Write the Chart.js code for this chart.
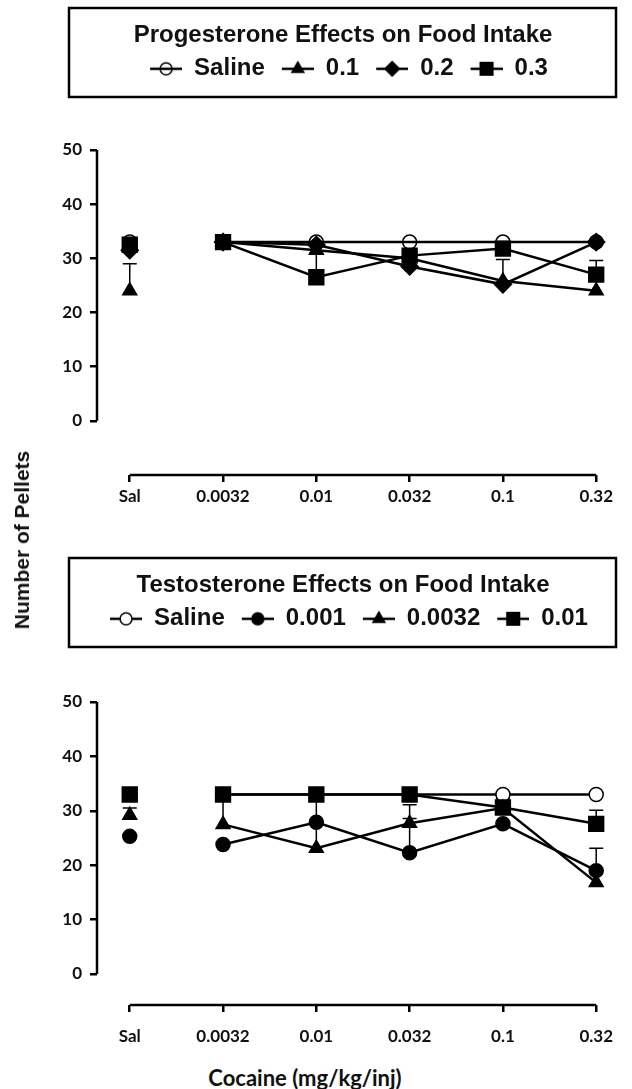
<!DOCTYPE html>
<html>
<head>
<meta charset="utf-8">
<script src="https://cdn.jsdelivr.net/npm/chart.js@4.4.0/dist/chart.umd.min.js"></script>
<style>
  html, body { margin: 0; padding: 0; background: #fff; }
  #wrap { position: relative; width: 632px; height: 1089px; overflow: hidden; }
  .panel { position: absolute; left: 0; width: 632px; }
  #topPanel { top: 0; }
  #bottomPanel { top: 540px; }
  #ytitle {
    position: absolute; left: 22px; top: 540px;
    transform: translate(-50%, -50%) rotate(-90deg);
    font: bold 21px "Liberation Sans", Arial, sans-serif; color: #111; white-space: nowrap;
  }
  #xtitle {
    position: absolute; left: 305px; top: 1077px;
    transform: translate(-50%, -50%);
    font: bold 22px Lato, sans-serif; color: #111; white-space: nowrap;
  }
</style>
</head>
<body>
<div id="wrap">
  <div class="panel" id="topPanel"><canvas id="chartProg" width="632" height="515"></canvas></div>
  <div class="panel" id="bottomPanel"><canvas id="chartTest" width="632" height="520"></canvas></div>
  <div id="ytitle">Number of Pellets</div>
  <div id="xtitle">Cocaine (mg/kg/inj)</div>
</div>
<script>
// ---- data ----
const doseLabels = ["Sal", "0.0032", "0.01", "0.032", "0.1", "0.32"];
const yTicks = [0, 10, 20, 30, 40, 50];

// progesterone panel
const progSaline = [33, 33, 33, 33, 33, 33];
const prog01 = [24, 33, 31.5, 30, 25.8, 24];
const prog02 = [31.5, 33, 32.5, 28.5, 25.2, 33];
const prog03 = [32.5, 33, 26.5, 30.5, 31.8, 27];
const prog01Err = [5, 0, 0, 0, 4, 0];
const prog03Err = [0, 0, 4.5, 0, 0, 2.6];

// testosterone panel
const testSaline = [33, 33, 33, 33, 33, 33];
const test0001 = [25.3, 23.8, 27.9, 22.3, 27.6, 19];
const test00032 = [29.2, 27.5, 23.1, 27.7, 30.5, 16.8];
const test001 = [33, 33, 33, 33, 30.6, 27.6];
const test0001Err = [0, 0, 0, 6.3, 0, 4.1];
const test00032Err = [1.3, 5, 9, 3.4, 0, 0];
const test001Err = [0, 0, 0, 0, 1.6, 2.5];

const tickFont = { family: "Lato, sans-serif", size: 17, weight: "bold" };
const legendFont = { family: "'Liberation Sans', Arial, sans-serif", size: 24, weight: "bold" };

// icon for the legend: short line with the marker on it
function legendIcon(style, fill, radius) {
    const c = document.createElement("canvas");
    c.width = 44; c.height = 22;
    const g = c.getContext("2d");
    g.strokeStyle = "#000";
    g.lineWidth = 2.5;
    g.beginPath(); g.moveTo(12, 11); g.lineTo(44, 11); g.stroke();
    g.fillStyle = fill;
    g.lineWidth = 1.5;
    Chart.helpers.drawPoint(g, { pointStyle: style, radius: radius, rotation: 0, borderWidth: 1.5 }, 28, 11);
    return c;
}

function lineSet(label, values, style, radius, fill, order, errors) {
    return {
        label: label,
        data: values.map((v, i) => ({ x: i, y: v })),
        errors: errors || null,
        borderColor: "#000",
        borderWidth: 2.5,
        pointStyle: style,
        pointRadius: radius,
        pointHoverRadius: radius,
        pointBackgroundColor: fill,
        pointBorderColor: "#000",
        pointBorderWidth: 1.5,
        order: order,
        fill: false,
        tension: 0,
        // the saline-pretreatment point stands apart, no line to it
        segment: { borderColor: c => c.p0DataIndex === 0 ? "rgba(0,0,0,0)" : "#000" }
    };
}

const errorBars = {
    id: "errorBars",
    beforeDatasetsDraw(chart) {
        const ctx = chart.ctx, xs = chart.scales.x, ys = chart.scales.y;
        chart.data.datasets.forEach(ds => {
            if (!ds.errors) return;
            ds.data.forEach((p, i) => {
                const e = ds.errors[i];
                if (!e) return;
                const x = xs.getPixelForValue(p.x);
                const y0 = ys.getPixelForValue(p.y);
                const y1 = ys.getPixelForValue(p.y + e);
                ctx.save();
                ctx.strokeStyle = "#000";
                ctx.lineWidth = 1.5;
                ctx.beginPath();
                ctx.moveTo(x, y0); ctx.lineTo(x, y1);
                ctx.moveTo(x - 7, y1); ctx.lineTo(x + 7, y1);
                ctx.stroke();
                ctx.restore();
            });
        });
    }
};

// axis lines only over the tick range (prism style)
const axisLines = {
    id: "axisLines",
    afterDraw(chart) {
        const ctx = chart.ctx, xs = chart.scales.x, ys = chart.scales.y, a = chart.chartArea;
        ctx.save();
        ctx.strokeStyle = "#000";
        ctx.lineWidth = 2.5;
        ctx.beginPath();
        ctx.moveTo(a.left, ys.getPixelForValue(yTicks[0]));
        ctx.lineTo(a.left, ys.getPixelForValue(yTicks[yTicks.length - 1]));
        ctx.moveTo(xs.getPixelForValue(0), a.bottom);
        ctx.lineTo(xs.getPixelForValue(doseLabels.length - 1), a.bottom);
        ctx.stroke();
        ctx.restore();
    }
};

// frame round the legend and fixed legend height
const legendFrame = {
    id: "legendFrame",
    beforeInit(chart) {
        const fit = chart.legend.fit;
        chart.legend.fit = function () {
            fit.call(this);
            this.height = chart.options.plugins.legendFrame.height;
        };
    },
    afterDraw(chart, args, opts) {
        const ctx = chart.ctx, lg = chart.legend;
        ctx.save();
        ctx.strokeStyle = "#000";
        ctx.lineWidth = 2.5;
        ctx.strokeRect(69, lg.top, 547, opts.boxHeight);
        ctx.restore();
    }
};

function makeChart(id, title, datasets, yMin, legendTop, legendHeight, axisHeight, tickPad) {
    return new Chart(document.getElementById(id), {
        type: "line",
        data: { datasets: datasets },
        plugins: [errorBars, axisLines, legendFrame],
        options: {
            responsive: false,
            animation: false,
            layout: { padding: { top: legendTop, left: 62, right: 8, bottom: 0 } },
            plugins: {
                tooltip: { enabled: false },
                legendFrame: { height: legendHeight, boxHeight: 89 },
                legend: {
                    position: "top",
                    title: {
                        display: true, text: title, color: "#111", font: legendFont,
                        padding: { top: 15, bottom: 0 }
                    },
                    labels: {
                        usePointStyle: true,
                        pointStyleWidth: 44,
                        boxHeight: 22,
                        padding: 5,
                        color: "#111",
                        font: legendFont,
                        generateLabels: ch => ch.data.datasets.map((ds, i) => ({
                            text: ds.label,
                            datasetIndex: i,
                            fontColor: "#111",
                            hidden: false,
                            lineWidth: 0,
                            pointStyle: legendIcon(ds.pointStyle, ds.pointBackgroundColor, ds.pointRadius * 0.85)
                        }))
                    }
                }
            },
            scales: {
                x: {
                    type: "linear",
                    min: -0.351,
                    max: 5.255,
                    afterBuildTicks: s => { s.ticks = doseLabels.map((_, i) => ({ value: i })); },
                    afterFit: s => { s.height = axisHeight; },
                    ticks: { callback: v => doseLabels[v], color: "#111", font: tickFont, padding: tickPad, maxRotation: 0 },
                    grid: { drawOnChartArea: false, drawTicks: true, tickLength: 7, color: "#000", lineWidth: 2.5 },
                    border: { display: false }
                },
                y: {
                    min: yMin,
                    max: 50,
                    afterBuildTicks: s => { s.ticks = yTicks.map(v => ({ value: v })); },
                    afterFit: s => { s.width = 35; },
                    ticks: { color: "#111", font: tickFont, padding: 8 },
                    grid: { drawOnChartArea: false, drawTicks: true, tickLength: 7, color: "#000", lineWidth: 2.5 },
                    border: { display: false }
                }
            }
        }
    });
}

makeChart("chartProg", "Progesterone Effects on Food Intake", [
    lineSet("Saline", progSaline, "circle", 7, "rgba(0,0,0,0)", 5),
    lineSet("0.1", prog01, "triangle", 8, "#000", 3, prog01Err),
    lineSet("0.2", prog02, "rectRot", 8.5, "#000", 2),
    lineSet("0.3", prog03, "rect", 10.5, "#000", 1, prog03Err)
], -10, 8, 142, 40, 4);

makeChart("chartTest", "Testosterone Effects on Food Intake", [
    lineSet("Saline", testSaline, "circle", 7, "#fff", 5),
    lineSet("0.001", test0001, "circle", 7, "#000", 3, test0001Err),
    lineSet("0.0032", test00032, "triangle", 8, "#000", 2, test00032Err),
    lineSet("0.01", test001, "rect", 10.5, "#000", 1, test001Err)
], -5.7, 18, 144, 55, 14);
</script>
</body>
</html>
